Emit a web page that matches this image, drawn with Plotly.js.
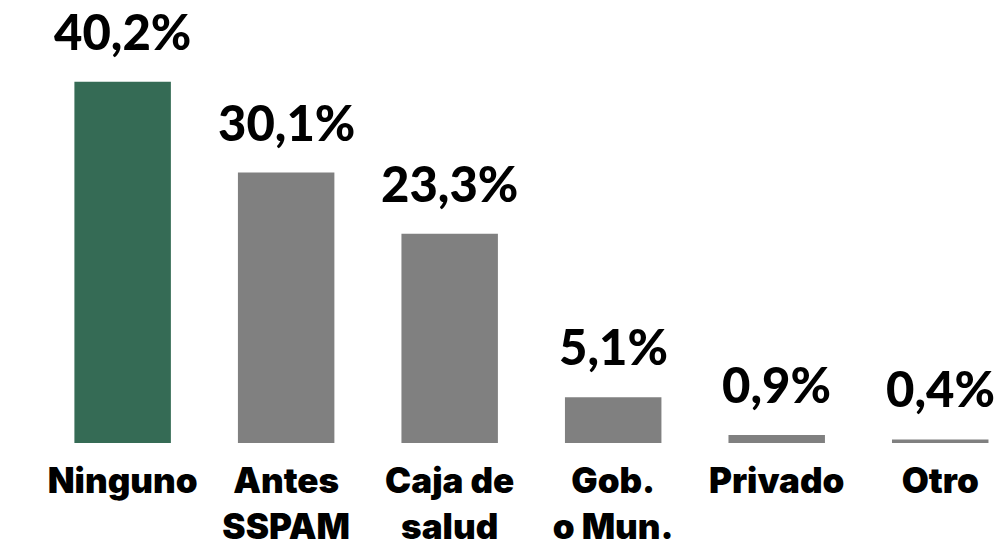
<!DOCTYPE html>
<html>
<head>
<meta charset="utf-8">
<script src="https://cdn.plot.ly/plotly-3.0.1.min.js"></script>
<style>
  html, body { margin: 0; padding: 0; background: #fff; }
  #chart { width: 1004px; height: 545px; }
</style>
</head>
<body>
<div id="chart"></div>
<script>
// datos
var categorias = ["Ninguno", "Antes SSPAM", "Caja de salud", "Gob. o Mun.", "Privado", "Otro"];
var etiquetas = ["Ninguno", "Antes<br>SSPAM", "Caja de<br>salud", "Gob.<br>o Mun.", "Privado", "Otro"];
var porcentajes = [40.2, 30.1, 23.3, 5.1, 0.9, 0.4];

var verde = "#356b55";
var gris = "#808080";

function textoPorcentaje(v) {
  return v.toFixed(1).replace(".", ",") + "%";
}

var trace = {
  x: categorias,
  y: porcentajes,
  type: "bar",
  marker: {
    color: categorias.map(function (c) { return c === "Ninguno" ? verde : gris; })
  },
  hoverinfo: "none"
};

// etiquetas de valor encima de cada barra
var anotaciones = [];
for (var i = 0; i < categorias.length; i++) {
  anotaciones.push({
    x: categorias[i],
    y: porcentajes[i],
    xref: "x",
    yref: "y",
    text: textoPorcentaje(porcentajes[i]),
    showarrow: false,
    yanchor: "bottom",
    yshift: 20,
    font: { family: "Lato, 'Open Sans', sans-serif", size: 49, color: "#000", weight: 900 }
  });
}

var layout = {
  width: 1004,
  height: 545,
  margin: { l: 0, r: 0, t: 0, b: 102 },
  paper_bgcolor: "#fff",
  plot_bgcolor: "#fff",
  showlegend: false,
  bargap: 0.41,
  xaxis: {
    type: "category",
    range: [-0.75, 5.39],
    tickvals: categorias,
    ticktext: etiquetas,
    ticks: "outside",
    ticklen: 7,
    tickcolor: "rgba(0,0,0,0)",
    showline: false,
    showgrid: false,
    zeroline: false,
    tickfont: { family: "Inter, 'DejaVu Sans', sans-serif", size: 35, color: "#000", weight: 900 }
  },
  yaxis: {
    range: [0, 49.3],
    visible: false,
    showgrid: false,
    zeroline: false
  },
  annotations: anotaciones
};

Plotly.newPlot("chart", [trace], layout, { displayModeBar: false, staticPlot: true });
</script>
</body>
</html>
